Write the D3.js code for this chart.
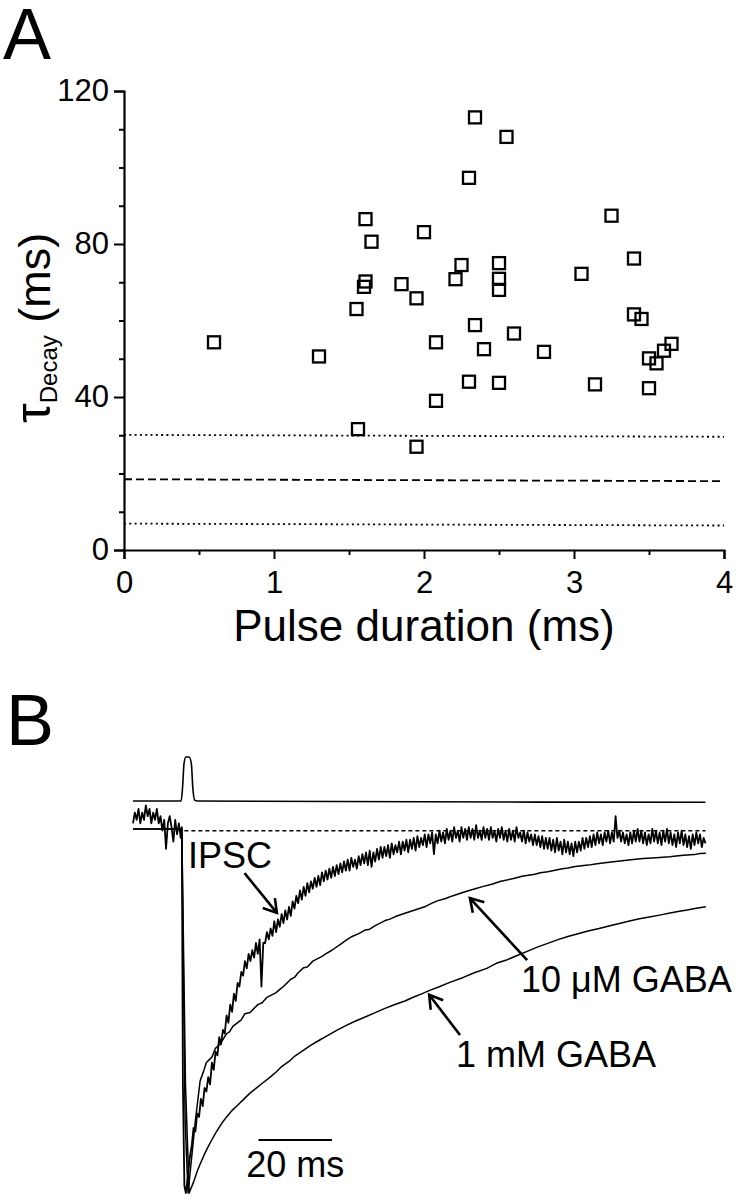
<!DOCTYPE html>
<html><head><meta charset="utf-8">
<script src="https://cdn.jsdelivr.net/npm/d3@7"></script>
<style>
body{margin:0;background:#fff}
svg{display:block}
text{font-family:"Liberation Sans",Arial,Helvetica,sans-serif;fill:#000}
</style>
</head><body>
<svg id="c" width="738" height="1200"></svg>
<script>
// ---------- Panel A data ----------
const pulseDuration = [2.34,2.55,2.30,1.61,1.65,2.00,3.25,3.40,2.25,2.21,2.50,2.50,2.50,3.05,1.61,1.60,1.85,1.95,1.55,3.40,3.45,2.34,2.08,2.60,2.40,2.80,3.65,3.60,3.50,3.55,0.60,1.30,1.56,1.95,2.08,2.30,2.50,3.14,3.50];
const tauDecay      = [113.1,108.0,97.3,86.5,80.6,83.1,87.4,76.2,74.5,70.8,75.0,70.9,68.0,72.2,70.2,68.8,69.5,65.8,63.0,61.6,60.4,58.8,54.3,56.6,52.5,51.8,53.9,52.1,50.1,48.8,54.3,50.6,31.6,27.0,39.0,44.0,43.7,43.3,42.3];
const xTickValues = [0,1,2,3,4];
const xMinorTicks = [0.5,1.5,2.5,3.5];
const yTickValues = [0,40,80,120];
const yMinorTicks = [10,20,30,50,60,70,90,100,110];
const refLineStart = [30.1,18.5,6.9];   // tau at 0 ms
const refLineEnd   = [29.6,18.0,6.4];   // tau at 4 ms
const refLineKind  = ["dotted","dashed","dotted"];

// ---------- Panel B data (time in ms; current as fraction of peak, inward = positive/down) ----------
const stimulus = [[0,0],[13.1,0],[13.5,0.3],[13.9,0.85],[14.4,1.0],[15.3,1.0],[15.9,0.85],[16.3,0.3],[16.8,0.02],[17.5,0],[156,-0.03]];
const ipscTime0 = 0, ipscStep = 0.5;   // IPSC samples every 0.5 ms, plus onset points below
const ipscPre = [-0.02,-0.05,-0.03,-0.06,-0.02,-0.05,-0.03,-0.07,-0.04,-0.06,-0.02,-0.05,-0.03,-0.06,-0.02,-0.04,0.0,-0.03,0.05,-0.02,-0.04,-0.01,0.03,-0.03,0.01,-0.02,0.02]; // t = 0 .. 13
const ipscOnset = [[13.3,-0.01],[13.6,0.7],[14.0,0.98],[14.4,1.0]];
const ipscDecay = [ // t = 15 .. 156 every 0.5 ms
0.95,0.90,0.87,0.82,0.83,0.78,0.79,0.74,0.76,0.71,0.72,0.68,0.70,0.64,0.66,0.61,0.62,0.57,0.59,0.55,
0.56,0.51,0.53,0.48,0.50,0.45,0.47,0.42,0.43,0.39,0.40,0.36,0.38,0.34,0.36,0.33,0.35,0.31,0.34,0.30,
0.43,0.31,0.31,0.28,0.30,0.27,0.29,0.25,0.28,0.245,0.265,0.23,0.255,0.22,0.245,0.21,0.235,0.195,0.215,0.18,
0.20,0.165,0.19,0.155,0.18,0.145,0.17,0.14,0.16,0.13,0.155,0.125,0.15,0.115,0.14,0.11,0.135,0.105,0.13,0.10,
0.125,0.095,0.12,0.09,0.115,0.085,0.11,0.08,0.11,0.075,0.10,0.08,0.105,0.07,0.095,0.065,0.09,0.06,0.095,0.055,
0.10,0.06,0.085,0.05,0.08,0.045,0.075,0.045,0.07,0.04,0.075,0.035,0.065,0.04,0.06,0.03,0.065,0.03,0.055,0.025,
0.06,0.025,0.05,0.02,0.055,0.015,0.045,0.02,0.04,0.01,0.045,0.01,0.035,0.005,0.065,0.01,0.035,0.0,0.03,0.005,
0.035,-0.005,0.025,0.0,0.03,-0.01,0.02,0.0,0.03,-0.01,0.02,-0.005,0.025,-0.01,0.02,-0.005,0.025,-0.015,0.02,0.0,
0.025,-0.01,0.02,-0.005,0.025,-0.01,0.02,0.0,0.03,-0.005,0.02,-0.01,0.025,0.0,0.03,-0.005,0.025,0.0,0.03,-0.01,
0.02,0.005,0.03,0.0,0.035,0.005,0.03,0.01,0.04,0.01,0.04,0.015,0.045,0.015,0.05,0.02,0.05,0.02,0.055,0.025,
0.06,0.02,0.055,0.03,0.065,0.025,0.06,0.03,0.065,0.035,0.07,0.03,0.06,0.03,0.055,0.02,0.05,0.02,0.045,0.015,
0.045,0.01,0.04,0.005,0.035,0.01,0.04,0.005,0.03,0.0,0.035,0.005,0.03,-0.04,0.02,0.0,0.03,0.005,0.035,0.01,
0.04,0.005,0.035,0.0,0.03,-0.005,0.03,0.0,0.035,0.005,0.04,0.01,0.035,-0.005,0.03,0.0,0.035,0.005,0.04,0.0,
0.03,-0.005,0.035,0.005,0.04,0.01,0.045,0.005,0.035,0.0,0.04,0.01,0.045,0.015,0.05,0.01,0.04,0.005,0.035,0.01,
0.045,0.02,0.035];
const gaba10uM = [[0,-0.005],[13.3,-0.005],[14.2,0.8],[15,1.0],[16,0.9],[17,0.8],[18.3,0.69],[19.2,0.665],[20,0.64],[21.5,0.625],[22.5,0.6],[23.7,0.59],[25.5,0.56],[26.3,0.555],[27.2,0.54],[29.5,0.522],[30.5,0.505],[31.9,0.502],[34,0.48],[35.2,0.475],[36.5,0.46],[39,0.447],[40,0.438],[41,0.43],[43,0.41],[44,0.405],[45,0.392],[46.5,0.378],[47.5,0.376],[49,0.36],[51.5,0.347],[52.5,0.34],[54.2,0.33],[57,0.31],[58,0.303],[59.7,0.292],[61.5,0.284],[63.1,0.275],[64.5,0.272],[66,0.262],[68.7,0.248],[70,0.244],[71.5,0.237],[74.1,0.228],[77,0.218],[79.7,0.209],[81.5,0.2],[83.1,0.193],[85,0.188],[87,0.18],[90.7,0.168],[93,0.161],[95,0.155],[98,0.147],[100,0.14],[101.9,0.136],[104,0.131],[106,0.126],[109.5,0.12],[111,0.116],[113,0.113],[117,0.105],[118.5,0.103],[120.5,0.099],[124,0.095],[126,0.092],[128,0.089],[131.5,0.085],[135.1,0.081],[137,0.079],[139,0.077],[142.5,0.075],[146.3,0.072],[148,0.07],[150,0.068],[153,0.066],[154.5,0.063],[156.1,0.062]];
const gaba1mM = [[0,-0.005],[13.3,-0.005],[14.3,0.7],[15.3,1.0],[16.5,0.97],[17.5,0.94],[18.3,0.92],[19.6,0.89],[21,0.862],[22.5,0.835],[24.3,0.806],[25.5,0.79],[27,0.772],[28.5,0.758],[30,0.743],[31.8,0.725],[33.5,0.711],[35.5,0.695],[37.3,0.681],[39,0.666],[40.5,0.651],[42.5,0.637],[44.1,0.622],[46,0.609],[48.5,0.592],[51,0.577],[53.1,0.565],[55.5,0.551],[58,0.538],[60.5,0.526],[63.1,0.515],[66,0.502],[68.5,0.491],[71,0.481],[74.1,0.47],[76.5,0.459],[78.5,0.451],[81,0.44],[83.1,0.432],[86.5,0.418],[90,0.405],[93,0.392],[96.4,0.38],[99,0.366],[102,0.356],[104.5,0.345],[107.4,0.333],[110,0.322],[113,0.311],[116,0.3],[118.5,0.292],[121,0.285],[124,0.277],[127,0.27],[129.7,0.263],[132.5,0.256],[135,0.25],[138,0.243],[140.7,0.238],[143.5,0.233],[146,0.228],[148.5,0.223],[151,0.219],[153.5,0.214],[156.1,0.21]];
const baselineRange = [14.0,156];
const scaleBar = {start:34.2, length:20, label:"20 ms"};
const traceLabels = ["IPSC","10 μM GABA","1 mM GABA"];

// assemble IPSC samples
const ipsc = [];
ipscPre.forEach((v,i)=>ipsc.push([ipscTime0+i*ipscStep, v]));
ipscOnset.forEach(p=>ipsc.push(p));
ipscDecay.forEach((v,i)=>ipsc.push([15+i*ipscStep, v]));

// ---------- drawing ----------
const svg = d3.select("#c");

// Panel A
const x = d3.scaleLinear().domain([0,4]).range([124,724]);
const y = d3.scaleLinear().domain([0,120]).range([550,91]);
const gA = svg.append("g");

gA.append("text").attr("x",3).attr("y",59).attr("font-size",72).text("A");

const xAxis = gA.append("g").attr("transform","translate(0,550)")
  .call(d3.axisBottom(x).tickValues(xTickValues).tickSize(9).tickPadding(12).tickFormat(d3.format("d")));
const xMinor = gA.append("g").attr("transform","translate(0,550)")
  .call(d3.axisBottom(x).tickValues(xMinorTicks).tickSize(5).tickFormat(""));
const yAxis = gA.append("g").attr("transform","translate(124,0)")
  .call(d3.axisLeft(y).tickValues(yTickValues).tickSize(10).tickPadding(5).tickFormat(d3.format("d")));
const yMinor = gA.append("g").attr("transform","translate(124,0)")
  .call(d3.axisLeft(y).tickValues(yMinorTicks).tickSize(5).tickFormat(""));
[xAxis,xMinor,yAxis,yMinor].forEach(a=>{
  a.select(".domain").attr("stroke","#000").attr("stroke-width",2.2);
  a.selectAll(".tick line").attr("stroke","#000").attr("stroke-width",2);
  a.selectAll(".tick text").attr("font-size",31).attr("font-family","'Liberation Sans',Arial,sans-serif").attr("fill","#000");
});
xMinor.select(".domain").remove();
yMinor.select(".domain").remove();

// reference lines
gA.selectAll("line.ref").data(refLineStart).enter().append("line")
  .attr("x1",x(0)).attr("x2",x(4))
  .attr("y1",d=>y(d)).attr("y2",(d,i)=>y(refLineEnd[i]))
  .attr("stroke","#000").attr("stroke-width",1.8)
  .attr("stroke-dasharray",(d,i)=>refLineKind[i]==="dotted"?"2,3.3":"8,4");

// markers
const pts = pulseDuration.map((d,i)=>[d,tauDecay[i]]);
gA.selectAll("rect.pt").data(pts).enter().append("rect")
  .attr("x",d=>x(d[0])-6).attr("y",d=>y(d[1])-6)
  .attr("width",12).attr("height",12)
  .attr("fill","none").attr("stroke","#000").attr("stroke-width",2.3);

// axis titles
gA.append("text").attr("x",x(2)).attr("y",641).attr("text-anchor","middle")
  .attr("font-size",44).text("Pulse duration (ms)");
const yt = gA.append("text").attr("transform","translate(50,423) rotate(-90)");
yt.append("tspan").attr("font-size",50).text("τ");
yt.append("tspan").attr("font-size",24).attr("dy",7).text("Decay");
yt.append("tspan").attr("font-size",45).attr("dy",-7).text(" (ms)");

// Panel B
const gB = svg.append("g");
gB.append("text").attr("x",6).attr("y",745).attr("font-size",72).text("B");

const t = d3.scaleLinear().domain([0,156]).range([133,705.5]);
const cur = d3.scaleLinear().domain([0,1]).range([830.7,1193]);
const stim = d3.scaleLinear().domain([0,1]).range([801,757]);

gB.append("path").datum(stimulus)
  .attr("d",d3.line().x(d=>t(d[0])).y(d=>stim(d[1])).curve(d3.curveMonotoneX))
  .attr("fill","none").attr("stroke","#000").attr("stroke-width",1.6);

gB.append("line").attr("x1",t(baselineRange[0])).attr("x2",t(baselineRange[1]))
  .attr("y1",cur(0)).attr("y2",cur(0))
  .attr("stroke","#000").attr("stroke-width",1.6).attr("stroke-dasharray","4,3");

const line = d3.line().x(d=>t(d[0])).y(d=>cur(d[1]));
[[gaba1mM,1.5],[gaba10uM,1.5],[ipsc,1.8]].forEach(([data,w])=>{
  gB.append("path").datum(data).attr("d",line)
    .attr("fill","none").attr("stroke","#000").attr("stroke-width",w).attr("stroke-linejoin","round");
});

// scale bar
gB.append("line").attr("x1",t(scaleBar.start)).attr("x2",t(scaleBar.start+scaleBar.length))
  .attr("y1",1140).attr("y2",1140).attr("stroke","#000").attr("stroke-width",2);
gB.append("text").attr("x",t(scaleBar.start+scaleBar.length/2)).attr("y",1177)
  .attr("text-anchor","middle").attr("font-size",36).text(scaleBar.label);

// labels + arrows (in data units: time, current fraction)
const arrows = [
  {tail:[30.4,0.117], head:[39.2,0.227]},
  {tail:[107.4,0.357], head:[91.8,0.186]},
  {tail:[89.1,0.564], head:[80.7,0.453]}
];
arrows.forEach(a=>{
  const x1=t(a.tail[0]), y1=cur(a.tail[1]), x2=t(a.head[0]), y2=cur(a.head[1]);
  gB.append("line").attr("x1",x1).attr("y1",y1).attr("x2",x2).attr("y2",y2)
    .attr("stroke","#000").attr("stroke-width",2.6);
  const ang = Math.atan2(y1-y2,x1-x2), L=15, sp=0.55;
  const p1=[x2+L*Math.cos(ang+sp), y2+L*Math.sin(ang+sp)];
  const p2=[x2+L*Math.cos(ang-sp), y2+L*Math.sin(ang-sp)];
  gB.append("path").attr("d",`M${p1[0]},${p1[1]}L${x2},${y2}L${p2[0]},${p2[1]}`)
    .attr("fill","none").attr("stroke","#000").attr("stroke-width",2.6);
});
gB.append("text").attr("x",188).attr("y",868).attr("font-size",36).text(traceLabels[0]);
gB.append("text").attr("x",521).attr("y",992).attr("font-size",36).text(traceLabels[1]);
gB.append("text").attr("x",456).attr("y",1067).attr("font-size",36).text(traceLabels[2]);
</script>
</body></html>
